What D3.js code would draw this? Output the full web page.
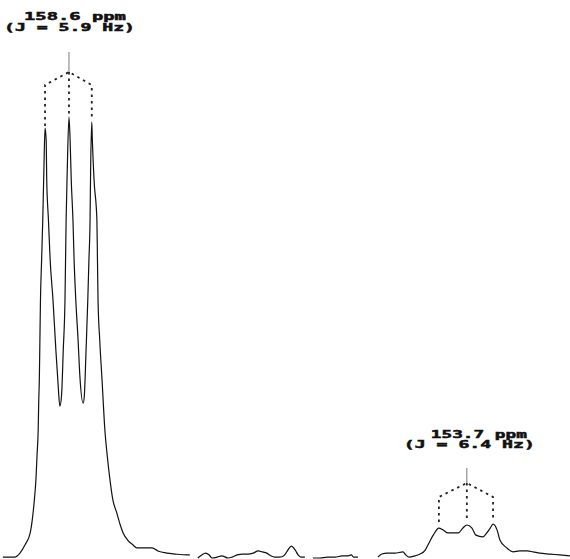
<!DOCTYPE html>
<html>
<head>
<meta charset="utf-8">
<script src="https://cdn.jsdelivr.net/npm/d3@7"></script>
<style>
  body { margin: 0; background: #fff; }
</style>
</head>
<body>
<div id="spectrum"></div>
<script>
// trace, x = relative position (0-100), y = intensity (% of tallest line)
// the recorder trace has breaks, so it is kept in four pieces
var seg1X = [0.5, 2.6, 3.5, 4.4, 5.3, 5.8, 6.1, 6.3, 6.5, 6.7, 6.8, 6.9, 7.0, 7.1, 7.3, 7.5, 7.7, 7.9, 8.1, 8.2,
  8.5, 8.8, 9.3, 9.8, 10.2, 10.5, 10.8, 11.1, 11.4, 11.6, 11.8, 12.1, 12.3, 12.5, 12.8, 13.0, 13.3, 13.7, 14.0,
  14.6, 14.8, 15.1, 15.4, 15.6, 15.8, 15.9, 16.1, 16.2, 16.5, 17.0, 17.1, 17.2, 17.5, 17.9, 18.4, 18.8, 19.3,
  19.8, 20.5, 21.1, 21.6, 22.5, 23.3, 24.0, 25.4, 26.7, 27.7, 29.3, 30.7, 32.8, 33.3];
var seg1Y = [0.2, 0.2, 1.1, 3.0, 5.7, 10.2, 14.3, 17.7, 23.4, 29.1, 35.9, 40.5, 49.5, 58.6, 67.7, 76.8, 88.2, 97.7, 95.0, 85.9,
  76.8, 67.7, 58.6, 47.3, 39.3, 34.5, 37.0, 47.3, 58.6, 76.8, 88.2, 100.2, 95.0, 85.9, 76.8, 67.7, 58.6, 49.5, 41.6,
  35.2, 37.0, 47.3, 58.6, 67.7, 76.8, 88.2, 99.1, 95.0, 85.9, 76.8, 67.7, 58.6, 49.5, 40.5, 29.1, 23.4, 17.7,
  13.2, 10.2, 7.5, 5.7, 3.9, 3.0, 2.3, 2.3, 2.3, 1.6, 1.1, 0.9, 0.7, 0.7];

var seg2X = [34.7, 35.4, 36.1, 36.7, 37.2, 38.1, 38.9, 40.0, 40.7, 41.6, 42.6, 43.5, 44.4, 45.3, 46.0, 46.8, 47.5,
  48.2, 49.1, 49.8, 50.5, 51.1, 51.8, 52.3, 52.8, 53.5];
var seg2Y = [0, 0.7, 1.1, 0.7, 0, 0.2, 0.5, 0, 0.2, 0.7, 0.9, 0.9, 1.1, 1.6, 1.4, 1.1, 0.5,
  0.2, 0.2, 0.5, 1.8, 2.7, 1.8, 0.7, 0.2, 0.2];

var seg3X = [54.9, 56.1, 57.5, 58.8, 60.0, 61.1, 61.6, 62.1, 62.8];
var seg3Y = [0, 0, 0.2, 0.2, 0.5, 0.5, 0.7, 0.2, 0.2];

var seg4X = [66.3, 67.0, 67.9, 69.3, 70.7, 71.2, 71.8, 72.8, 73.7, 74.6, 75.1, 76.0, 77.0, 77.7, 78.6, 79.5, 80.4,
  81.2, 81.9, 82.8, 83.5, 84.7, 85.4, 86.0, 86.5, 87.2, 87.7, 88.9, 90.0, 91.2, 92.5, 93.5, 94.7, 96.5, 98.2, 100];
var seg4Y = [0.2, 0.9, 1.1, 1.1, 1.4, 0.7, 0.2, 0.5, 0.9, 1.8, 3.0, 5.2, 6.8, 6.4, 5.7, 5.7, 5.7,
  6.8, 7.5, 6.8, 5.2, 4.8, 5.7, 6.8, 7.7, 6.4, 4.1, 2.3, 1.4, 1.6, 1.6, 1.4, 1.1, 0.9, 0.7, 0.5];

// multiplets (triplets) and their labels
var tripA = [7.9, 12.1, 16.1], tripAHeights = [97.7, 100.2, 99.1];
var tripB = [77.0, 81.9, 86.5], tripBHeights = [6.8, 7.5, 7.7];
var labelsA = ["158.6 ppm", "(J = 5.9 Hz)"];
var labelsB = ["153.7 ppm", "(J = 6.4 Hz)"];

var width = 570, height = 559;

var svg = d3.select("#spectrum")
  .append("svg")
    .attr("width", width)
    .attr("height", height);

var x = d3.scaleLinear().domain([0, 100]).range([0, 570]);
var y = d3.scaleLinear().domain([0, 100]).range([558, 118]);

var line = d3.line()
  .x(function(d) { return x(d[0]); })
  .y(function(d) { return y(d[1]); })
  .curve(d3.curveMonotoneX);

[[seg1X, seg1Y], [seg2X, seg2Y], [seg3X, seg3Y], [seg4X, seg4Y]].forEach(function(s) {
  svg.append("path")
    .datum(d3.zip(s[0], s[1]))
    .attr("fill", "none")
    .attr("stroke", "#111")
    .attr("stroke-width", 1.2)
    .attr("stroke-linejoin", "round")
    .attr("d", line);
});

// dashed splitting pattern above each triplet
// lift = px from peak top to dashes, corner/apex/top = px from canvas top
function bracket(peaks, heights, o) {
  var g = svg.append("g")
    .attr("fill", "none")
    .attr("stroke", "#222");
  var xs = peaks.map(x);
  var tops = heights.map(function(h) { return y(h) - o.lift; });
  var pts = [[xs[0], tops[0]], [xs[0], o.corner], [xs[1], o.apex], [xs[2], o.corner], [xs[2], tops[2]]];
  g.append("path")
    .attr("d", d3.line()(pts))
    .attr("stroke-width", 1.8)
    .attr("stroke-dasharray", "2.5,4");
  g.append("path")
    .attr("d", d3.line()([[xs[1], o.apex], [xs[1], tops[1]]]))
    .attr("stroke-width", 1.8)
    .attr("stroke-dasharray", "2.5,4");
  g.append("path")
    .attr("d", d3.line()([[xs[1], o.top], [xs[1], o.apex]]))
    .attr("stroke-width", 0.8)
    .attr("stroke", "#555");

  o.text.forEach(function(t, i) {
    svg.append("text")
      .attr("x", xs[1] + t.dx)
      .attr("y", t.y)
      .attr("textLength", t.w)
      .attr("lengthAdjust", "spacingAndGlyphs")
      .attr("font-family", "DejaVu Sans Mono, monospace")
      .attr("font-weight", "bold")
      .attr("font-size", 10.5)
      .attr("fill", "#111")
      .attr("stroke", "#111")
      .attr("stroke-width", 0.5)
      .text(o.labels[i]);
  });
}

bracket(tripA, tripAHeights, {
  lift: 2, corner: 85, apex: 72, top: 52, labels: labelsA,
  text: [{dx: -45, y: 20, w: 102}, {dx: -65, y: 30.5, w: 131}]
});
bracket(tripB, tripBHeights, {
  lift: 6, corner: 497, apex: 483, top: 468, labels: labelsB,
  text: [{dx: -36, y: 437.5, w: 96}, {dx: -63, y: 448, w: 131}]
});
</script>
</body>
</html>
